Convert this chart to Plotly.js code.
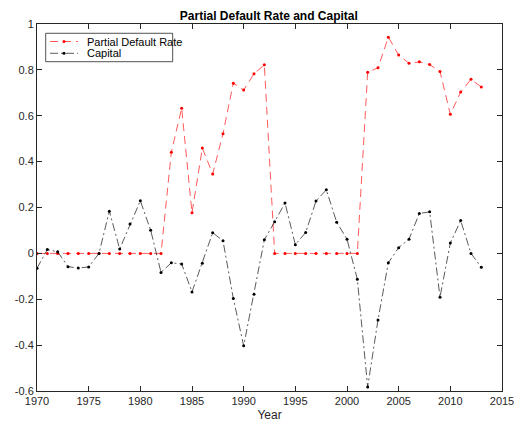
<!DOCTYPE html>
<html>
<head>
<meta charset="utf-8">
<script src="https://cdn.plot.ly/plotly-3.0.1.min.js"></script>
<style>html,body{margin:0;padding:0;background:#fff;}#chart{width:514px;height:426px;}</style>
</head>
<body>
<div id="chart"></div>
<script>
const years = [1970,1971,1972,1973,1974,1975,1976,1977,1978,1979,1980,1981,1982,1983,1984,1985,1986,1987,1988,1989,1990,1991,1992,1993,1994,1995,1996,1997,1998,1999,2000,2001,2002,2003,2004,2005,2006,2007,2008,2009,2010,2011,2012,2013];
const partialDefaultRate = [0,0,0,0,0,0,0,0,0,0,0,0,0,0.441,0.633,0.177,0.459,0.346,0.522,0.742,0.712,0.783,0.822,0,0,0,0,0,0,0,0,0,0.79,0.809,0.942,0.865,0.829,0.835,0.823,0.793,0.606,0.703,0.759,0.725];
const capital = [-0.065,0.017,0.007,-0.058,-0.064,-0.059,0,0.184,0.019,0.128,0.229,0.101,-0.083,-0.041,-0.046,-0.168,-0.043,0.09,0.055,-0.197,-0.403,-0.178,0.059,0.138,0.220,0.038,0.091,0.228,0.277,0.136,0.062,-0.113,-0.583,-0.29,-0.041,0.025,0.062,0.174,0.181,-0.191,0.045,0.143,0.0,-0.061];
const seriesNames = ['Partial Default Rate', 'Capital'];
const xTicks = [1970,1975,1980,1985,1990,1995,2000,2005,2010,2015];
const yTicks = [-0.6,-0.4,-0.2,0,0.2,0.4,0.6,0.8,1];
const yTickText = ['-0.6','-0.4','-0.2','0','0.2','0.4','0.6','0.8','1'];

const axisColor = '#262626';
const colors = ['#ff0000', '#000000'];
const dashes = ['8px,5px', '8px,3px,2px,3px'];

const traces = [
  {x: years, y: partialDefaultRate, name: seriesNames[0], type: 'scatter', mode: 'lines+markers', showlegend: false,
   line: {color: colors[0], width: 0.65, dash: dashes[0]}, marker: {color: colors[0], size: 3}},
  {x: years, y: capital, name: seriesNames[1], type: 'scatter', mode: 'lines+markers', showlegend: false,
   line: {color: colors[1], width: 0.65, dash: dashes[1]}, marker: {color: colors[1], size: 3}}
];

// Legend drawn in paper coordinates (MATLAB-style compact box)
const legBox = {x0: 0.0187, x1: 0.2918, y0: 0.8973, y1: 0.9747};
const rowY = [0.9523, 0.9202];
const sampleX = [0.028, 0.0882];
const markerX = 0.058;
const textX = 0.1032;
const shapes = [{type: 'rect', xref: 'paper', yref: 'paper', x0: legBox.x0, x1: legBox.x1, y0: legBox.y0, y1: legBox.y1,
                 line: {color: axisColor, width: 0.8}, fillcolor: '#fff', layer: 'above'}];
const annotations = [];
seriesNames.forEach((nm, i) => {
  shapes.push({type: 'line', xref: 'paper', yref: 'paper', x0: sampleX[0], x1: sampleX[1], y0: rowY[i], y1: rowY[i],
               line: {color: colors[i], width: 0.65, dash: dashes[i]}, layer: 'above'});
  shapes.push({type: 'circle', xref: 'paper', yref: 'paper', xsizemode: 'pixel', ysizemode: 'pixel',
               xanchor: markerX, yanchor: rowY[i], x0: -1.5, x1: 1.5, y0: -1.5, y1: 1.5,
               fillcolor: colors[i], line: {width: 0}, layer: 'above'});
  annotations.push({xref: 'paper', yref: 'paper', x: textX, y: rowY[i], xanchor: 'left', yanchor: 'middle',
                    text: nm, showarrow: false, font: {size: 11, color: '#000'}});
});

const layout = {
  width: 514, height: 426,
  margin: {l: 37, r: 12, t: 24, b: 35},
  paper_bgcolor: '#fff', plot_bgcolor: '#fff',
  font: {family: 'Liberation Sans, Arial, sans-serif', size: 11, color: axisColor},
  title: {text: '<b>Partial Default Rate and Capital</b>', x: 0.523, xanchor: 'center', y: 0.964, yanchor: 'middle', yref: 'container', font: {size: 12, color: '#000'}},
  showlegend: false,
  shapes: shapes,
  annotations: annotations,
  xaxis: {range: [1970, 2015], tickvals: xTicks, ticks: 'inside', ticklen: 5, tickcolor: axisColor, showline: true, linecolor: axisColor, linewidth: 1, mirror: 'ticks', showgrid: false, zeroline: false,
          ticklabeloverflow: 'allow', title: {text: 'Year', standoff: 4, font: {size: 12}}},
  yaxis: {range: [-0.6, 1], tickvals: yTicks, ticktext: yTickText, ticks: 'inside', ticklen: 5, tickcolor: axisColor, showline: true, linecolor: axisColor, linewidth: 1, mirror: 'ticks', showgrid: false, zeroline: false,
          ticklabeloverflow: 'allow'}
};
Plotly.newPlot('chart', traces, layout, {displayModeBar: false, staticPlot: true});
</script>
</body>
</html>
